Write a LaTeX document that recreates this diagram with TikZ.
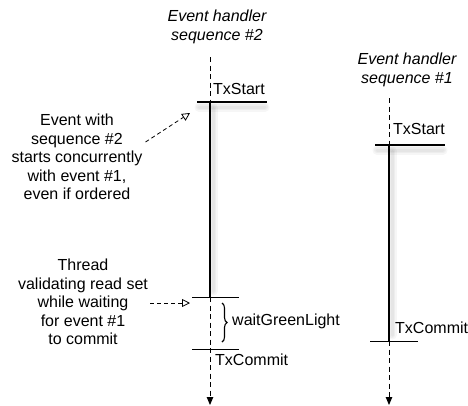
\documentclass[tikz,border=0pt]{standalone}
\usepackage{fontspec}
\setmainfont{Liberation Sans}
\usetikzlibrary{arrows.meta, positioning, decorations.pathreplacing}

\begin{document}
\begin{tikzpicture}[
		x=1pt, y=-1pt,
		% styles
		lbl/.style={font=\fontsize{16}{18.6}\selectfont, align=center, inner sep=0pt},
		title/.style={lbl, font=\fontsize{16}{18.6}\selectfont\itshape},
		tx/.style={lbl, anchor=west},
		lifeline/.style={line width=2.2pt},
		waitline/.style={line width=0.9pt, dash pattern=on 5pt off 3.5pt, -{Triangle[width=6.5pt, length=8pt]}},
		topline/.style={line width=0.9pt, dash pattern=on 5pt off 3.5pt},
		startbar/.style={line width=1.7pt},
		endbar/.style={line width=1pt},
		shade/.style={draw=black, opacity=0.035, line width=#1, line cap=round},
		note/.style={line width=0.8pt, dash pattern=on 4pt off 3pt, -{Triangle[open, width=8pt, length=8pt]}},
		brc/.style={decorate, decoration={brace, amplitude=5pt}, line width=1.1pt}
		]
		\useasboundingbox (0,0) rectangle (468,405);
		
		% ==========================================
		% Event handler sequence #2 (left)
		% ==========================================
		\node[title] (title2) at (217,27) {Event handler\\sequence \#2};
		
		\coordinate (s2top) at (210,57);
		\coordinate (s2start) at (210,102);
		\coordinate (s2startL) at (197,102);
		\coordinate (s2startR) at (267,102);
		\coordinate (s2wait) at (210,297);
		\coordinate (s2waitL) at (192,297);
		\coordinate (s2waitR) at (239,297);
		\coordinate (s2commit) at (210,349);
		\coordinate (s2commitL) at (192,349);
		\coordinate (s2commitR) at (239,349);
		\coordinate (s2end) at (210,405);
		
		\node[tx] (start2) at (213,89) {TxStart};
		\node[tx] (commit2) at (215,360) {TxCommit};
		
		% 阴影 (soft, a few layers)
		\foreach \w in {9pt,6pt,3pt}{
			\draw[shade=\w] ([xshift=2pt, yshift=-5pt]s2startL) -- ([xshift=-2pt, yshift=-5pt]s2startR);
			\draw[shade=\w] ([xshift=3pt, yshift=-6pt]s2start) -- ([xshift=3pt, yshift=6pt]s2wait);
		}
		
		\draw[topline] (s2top) -- (s2start);
		\draw[lifeline] (s2start) -- (s2wait);
		\draw[waitline] (s2wait) -- (s2end);
		\draw[startbar] (s2startL) -- (s2startR);
		\draw[endbar] (s2waitL) -- (s2waitR);
		\draw[endbar] (s2commitL) -- (s2commitR);
		
		% waitGreenLight
		\coordinate (brcTop) at (222,303);
		\coordinate (brcBot) at (222,342);
		\draw[brc] (brcTop) -- (brcBot);
		\node[tx] (wait) at (232,321) {waitGreenLight};
		
		% ==========================================
		% Event handler sequence #1 (right)
		% ==========================================
		\node[title] (title1) at (407,70) {Event handler\\sequence \#1};
		
		\coordinate (s1top) at (389,98);
		\coordinate (s1start) at (389,145);
		\coordinate (s1startL) at (375,145);
		\coordinate (s1startR) at (445,145);
		\coordinate (s1commit) at (389,341);
		\coordinate (s1commitL) at (370,341);
		\coordinate (s1commitR) at (418,341);
		\coordinate (s1end) at (389,405);
		
		\node[tx] (start1) at (393,129) {TxStart};
		\node[tx] (commit1) at (395,328) {TxCommit};
		
		\foreach \w in {9pt,6pt,3pt}{
			\draw[shade=\w] ([xshift=2pt, yshift=-5pt]s1startL) -- ([xshift=-2pt, yshift=-5pt]s1startR);
			\draw[shade=\w] ([xshift=3pt, yshift=-6pt]s1start) -- ([xshift=3pt, yshift=6pt]s1commit);
		}
		
		\draw[topline] (s1top) -- (s1start);
		\draw[lifeline] (s1start) -- (s1commit);
		\draw[waitline] (s1commit) -- (s1end);
		\draw[startbar] (s1startL) -- (s1startR);
		\draw[endbar] (s1commitL) -- (s1commitR);
		
		% ==========================================
		% Annotations
		% ==========================================
		\node[lbl] (concurrent) at (77,157) {Event with\\sequence \#2\\starts concurrently\\with event \#1,\\even if ordered};
		\node[lbl] (validate) at (83,302) {Thread\\validating read set\\while waiting\\for event \#1\\to commit};
		
		\coordinate (concTip) at (190,113);
		\coordinate (valTip) at (190,303);
		\draw[note] (concurrent.east) ++(3,-15) coordinate (concFrom) -- (concTip);
		\draw[note] (validate.east) ++(2,1) coordinate (valFrom) -- (valTip);
		
	\end{tikzpicture}
\end{document}
